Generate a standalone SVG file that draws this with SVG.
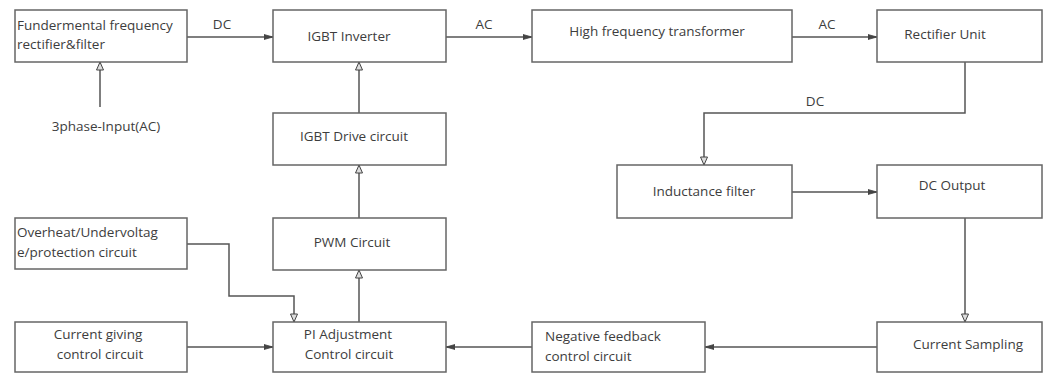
<svg xmlns="http://www.w3.org/2000/svg" width="1046" height="374" viewBox="0 0 1046 374">
<style>
.box{fill:#fff;stroke:#666;stroke-width:1.5}
.t{font-family:"Open Sans","Liberation Sans",sans-serif;font-size:13.5px;fill:#3d3d3d}
.c{text-anchor:middle}
.ln{fill:none;stroke:#555;stroke-width:1.5}
.hf{marker-end:url(#af)}
.ho{marker-end:url(#ao)}
</style>
<defs>
<marker id="af" markerWidth="10" markerHeight="8" refX="9" refY="4" orient="auto" markerUnits="userSpaceOnUse">
<path d="M0,1.5 L9,4 L0,6.5 Z" fill="#444" stroke="#444" stroke-width="0.8"/>
</marker>
<marker id="ao" markerWidth="10" markerHeight="10" refX="9" refY="5" orient="auto" markerUnits="userSpaceOnUse">
<path d="M1,1.5 L9,5 L1,8.5 Z" fill="#ddd" stroke="#444" stroke-width="1"/>
</marker>
</defs>
<rect width="1046" height="374" fill="#fff"/>
<g id="connectors">
<line class="ln hf" x1="187" y1="37" x2="273" y2="37"/>
<line class="ln hf" x1="446" y1="37" x2="532" y2="37"/>
<line class="ln hf" x1="792" y1="37" x2="877" y2="37"/>
<polyline class="ln ho" points="965,62 965,113 704,113 704,165"/>
<line class="ln hf" x1="792" y1="192" x2="877" y2="192"/>
<line class="ln ho" x1="965" y1="218" x2="965" y2="322"/>
<line class="ln hf" x1="877" y1="347" x2="705" y2="347"/>
<line class="ln hf" x1="532" y1="347" x2="446" y2="347"/>
<line class="ln hf" x1="187" y1="347" x2="273" y2="347"/>
<line class="ln ho" x1="359" y1="322" x2="359" y2="270"/>
<line class="ln ho" x1="359" y1="218" x2="359" y2="165"/>
<line class="ln ho" x1="359" y1="113" x2="359" y2="62"/>
<polyline class="ln ho" points="187,244 229,244 229,296 294,296 294,322"/>
<line class="ln ho" x1="100" y1="107" x2="100" y2="62"/>
<text class="t c" x="222" y="29">DC</text>
<text class="t c" x="484" y="29">AC</text>
<text class="t c" x="827" y="29">AC</text>
<text class="t c" x="815" y="106">DC</text>
</g>
<g id="n1"><rect class="box" x="15" y="10" width="172" height="52"/><text class="t" x="17" y="30">Fundermental frequency</text><text class="t" x="17" y="49">rectifier&amp;filter</text></g>
<g id="n2"><rect class="box" x="273" y="10" width="173" height="52"/><text class="t c" x="349" y="41">IGBT Inverter</text></g>
<g id="n3"><rect class="box" x="532" y="10" width="260" height="52"/><text class="t c" x="657" y="36">High frequency transformer</text></g>
<g id="n4"><rect class="box" x="877" y="10" width="165" height="52"/><text class="t c" x="945" y="39">Rectifier Unit</text></g>
<g id="n5"><text class="t c" x="106" y="131">3phase-Input(AC)</text></g>
<g id="n6"><rect class="box" x="273" y="113" width="173" height="52"/><text class="t c" x="354" y="141">IGBT Drive circuit</text></g>
<g id="n7"><rect class="box" x="617" y="165" width="175" height="53"/><text class="t c" x="704" y="196">Inductance filter</text></g>
<g id="n8"><rect class="box" x="877" y="165" width="165" height="53"/><text class="t c" x="952" y="190">DC Output</text></g>
<g id="n9"><rect class="box" x="15" y="218" width="172" height="51"/><text class="t" x="17" y="237">Overheat/Undervoltag</text><text class="t" x="17" y="257">e/protection circuit</text></g>
<g id="n10"><rect class="box" x="273" y="218" width="173" height="52"/><text class="t c" x="352" y="247">PWM Circuit</text></g>
<g id="n11"><rect class="box" x="15" y="322" width="172" height="50"/><text class="t c" x="98" y="339">Current giving</text><text class="t c" x="100" y="359">control circuit</text></g>
<g id="n12"><rect class="box" x="273" y="322" width="173" height="50"/><text class="t c" x="348" y="339">PI Adjustment</text><text class="t c" x="349" y="359">Control circuit</text></g>
<g id="n13"><rect class="box" x="532" y="322" width="173" height="50"/><text class="t" x="545" y="341">Negative feedback</text><text class="t" x="545" y="361">control circuit</text></g>
<g id="n14"><rect class="box" x="877" y="322" width="165" height="50"/><text class="t c" x="968" y="349">Current Sampling</text></g>
</svg>
